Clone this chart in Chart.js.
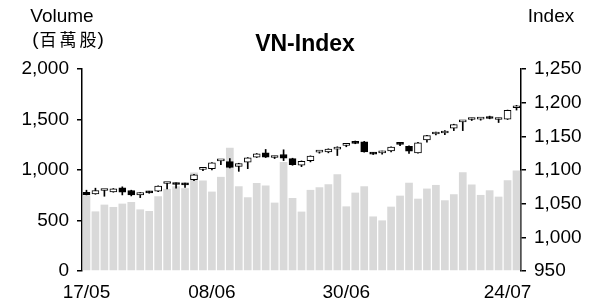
<!DOCTYPE html>
<html>
<head>
<meta charset="utf-8">
<script src="https://cdn.jsdelivr.net/npm/chart.js@4.4.1/dist/chart.umd.min.js"></script>
<style>
  html, body { margin: 0; padding: 0; background: #fff; }
  #wrap { width: 595px; height: 305px; position: relative; }
</style>
</head>
<body>
<div id="wrap"><canvas id="chartVN"></canvas></div>
<script>
// trading volume (百萬股), one per session
const volume = [749, 590, 657, 634, 667, 683, 610, 594, 740, 813,
  839, 820, 975, 896, 786, 932, 1220, 839, 730, 872,
  846, 677, 1078, 723, 588, 803, 829, 859, 958, 640,
  776, 839, 540, 501, 637, 746, 874, 716, 816, 852,
  700, 760, 978, 856, 753, 799, 736, 899, 995];

// VN-Index OHLC
const open = [1067, 1064.5, 1069.5, 1067.5, 1073.5, 1069.5, 1063, 1068, 1068.5, 1080,
  1080.5, 1080, 1085.5, 1101, 1102, 1113.5, 1112.5, 1105.5, 1111.5, 1119,
  1125.5, 1118.5, 1123, 1117, 1107, 1114, 1126.5, 1127, 1131, 1136.5,
  1141, 1142, 1125.5, 1125.5, 1128.5, 1139, 1135, 1125.5, 1144.5, 1153.5,
  1155, 1162, 1171.5, 1175, 1175.5, 1179.5, 1175, 1175.5, 1192.5];
const high = [1070, 1073, 1070, 1072.5, 1075, 1070, 1066.5, 1068.5, 1076.5, 1080.5,
  1081, 1080.5, 1093.5, 1103, 1111, 1114, 1117, 1110, 1118.5, 1124.5,
  1130.5, 1120.5, 1130, 1117.5, 1113.5, 1121, 1128, 1131.5, 1134.5, 1138.5,
  1143, 1142.5, 1126, 1128, 1134.5, 1140, 1136, 1141, 1151.5, 1156.5,
  1158.5, 1168, 1173, 1177, 1177, 1180, 1177, 1189, 1196];
const low = [1063, 1064, 1061, 1067, 1063, 1061.5, 1059, 1065.5, 1068, 1072,
  1073, 1074, 1084, 1099, 1100, 1108, 1103, 1098, 1102, 1118.5,
  1118.5, 1117, 1114, 1107, 1105, 1112, 1125, 1125.5, 1121.5, 1134.5,
  1139, 1126.5, 1123, 1123.5, 1127, 1136, 1124.5, 1125, 1141.5, 1152,
  1152.5, 1158.5, 1158.5, 1173.5, 1174, 1176, 1170.5, 1175, 1189];
const close = [1063.5, 1069.5, 1070, 1072, 1067, 1063, 1066.5, 1066, 1076, 1080.5,
  1078.5, 1078, 1093, 1101.5, 1110.5, 1114, 1104, 1109.5, 1118, 1124,
  1119, 1119, 1117.5, 1108, 1113, 1120.5, 1127, 1131, 1134, 1137,
  1139.5, 1127, 1123.5, 1126, 1134, 1138, 1128, 1140.5, 1151, 1154,
  1155.5, 1167.5, 1172, 1175.5, 1176, 1176.5, 1175.5, 1188.5, 1193];

// x-axis labels and the sessions they sit under
const tickIdx = [0, 14, 29, 47];
const tickText = ["17/05", "08/06", "30/06", "24/07"];

const sessions = volume.map((v, i) => i);
const bodyColors = close.map((c, i) => (c >= open[i] ? "#ffffff" : "#000000"));
const fmt = (v) => v.toLocaleString("en-US");
const tickFont = { family: "Liberation Sans", size: 19 };

const textPlugin = {
  id: "texts",
  afterDraw(chart) {
    const ctx = chart.ctx;
    ctx.save();
    ctx.fillStyle = "#000";
    ctx.textAlign = "center";
    ctx.textBaseline = "middle";
    ctx.font = "19px 'Liberation Sans'";
    ctx.fillText("Volume", 62, 17);
    ctx.fillText("Index", 551, 17);
    ctx.font = "bold 23px 'Liberation Sans'";
    ctx.fillText("VN-Index", 305, 45);

    // unit line: latin parens around spaced CJK
    ctx.textAlign = "left";
    const latin = "19px 'Liberation Sans'";
    const cjk = "17px 'Noto Sans CJK TC'";
    ctx.font = latin;
    const wp = ctx.measureText("(").width;
    ctx.font = cjk;
    ctx.letterSpacing = "3px";
    const wc = ctx.measureText("百萬股").width - 3;
    let x = 68 - (2 * wp + wc + 2) / 2;
    ctx.letterSpacing = "0px";
    ctx.font = latin;
    ctx.fillText("(", x, 40);
    x += wp + 1;
    ctx.font = cjk;
    ctx.letterSpacing = "3px";
    ctx.fillText("百萬股", x, 40);
    x += wc + 1;
    ctx.letterSpacing = "0px";
    ctx.font = latin;
    ctx.fillText(")", x, 40);
    ctx.restore();
  },
};

new Chart("chartVN", {
  type: "bar",
  data: {
    labels: sessions,
    datasets: [
      {
        label: "Body",
        data: open.map((o, i) => [o, close[i]]),
        yAxisID: "yIndex",
        backgroundColor: bodyColors,
        borderColor: "#000",
        borderWidth: 1,
        borderSkipped: false,
        barThickness: 7,
        minBarLength: 2,
        grouped: false,
        order: 1,
      },
      {
        label: "Wick",
        data: low.map((l, i) => [l, high[i]]),
        yAxisID: "yIndex",
        backgroundColor: "#000",
        barThickness: 1,
        grouped: false,
        order: 2,
      },
      {
        label: "Volume",
        data: volume,
        yAxisID: "yVol",
        backgroundColor: "#d9d9d9",
        barPercentage: 0.86,
        categoryPercentage: 1,
        grouped: false,
        order: 3,
      },
    ],
  },
  options: {
    responsive: true,
    maintainAspectRatio: false,
    animation: false,
    layout: { padding: { top: 69, left: 0, right: 0, bottom: 0 } },
    plugins: {
      legend: { display: false },
      tooltip: { enabled: false },
    },
    scales: {
      x: {
        offset: true,
        grid: { display: false, drawTicks: false },
        border: { display: false },
        ticks: {
          autoSkip: false,
          maxRotation: 0,
          color: "#000",
          font: tickFont,
          padding: 10,
          callback: (v, i) => {
            const k = tickIdx.indexOf(i);
            return k < 0 ? "" : tickText[k];
          },
        },
        afterFit: (s) => { s.height = 34; },
      },
      yVol: {
        position: "left",
        min: 0,
        max: 2000,
        ticks: { stepSize: 500, color: "#000", font: tickFont, padding: 8, callback: fmt },
        grid: { drawOnChartArea: false, tickLength: 5, color: "#000", lineWidth: 1.5 },
        border: { color: "#000", width: 1.5 },
        afterFit: (s) => { s.width = 82; },
      },
      yIndex: {
        position: "right",
        min: 950,
        max: 1250,
        ticks: { stepSize: 50, color: "#000", font: tickFont, padding: 8, callback: fmt },
        grid: { drawOnChartArea: false, tickLength: 5, color: "#000", lineWidth: 1.5 },
        border: { color: "#000", width: 1.5 },
        afterFit: (s) => { s.width = 74; },
      },
    },
  },
  plugins: [textPlugin],
});
</script>
</body>
</html>
